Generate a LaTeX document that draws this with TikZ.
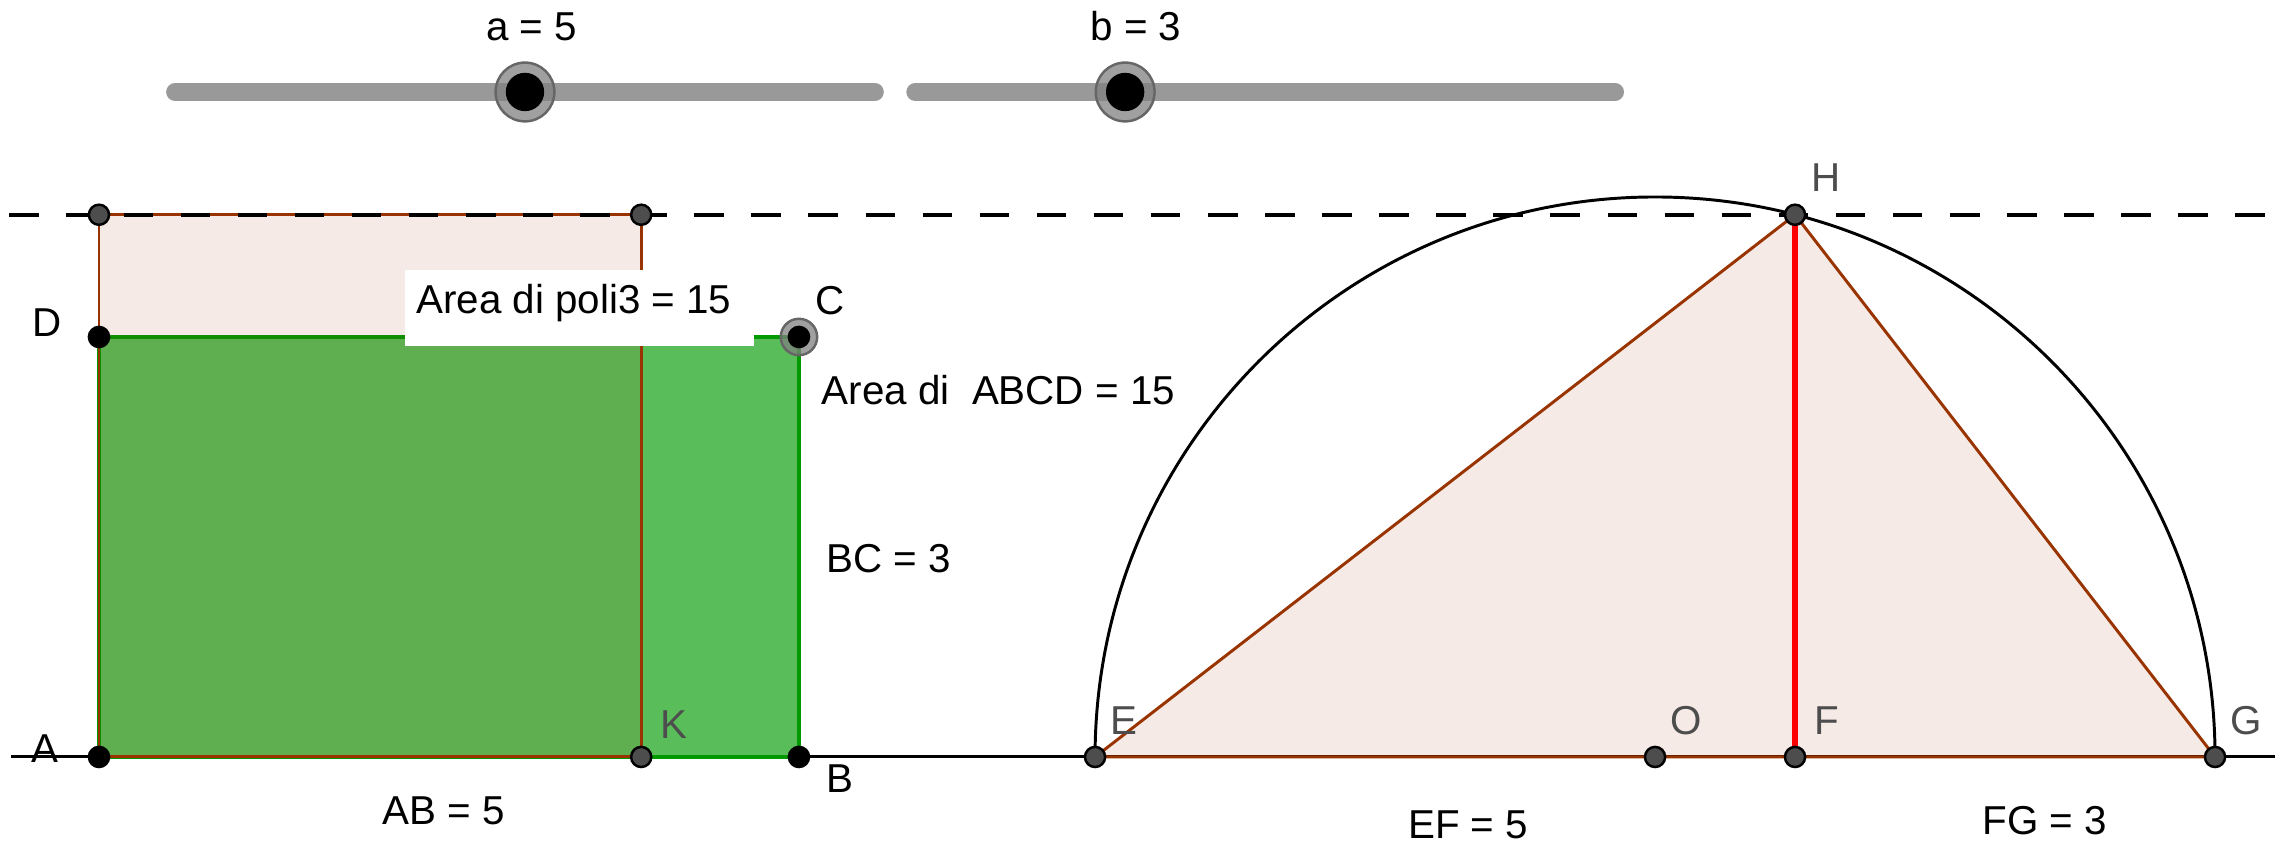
\documentclass[tikz,border=0pt]{standalone}
\usepackage{fontspec}
\setmainfont{Liberation Sans}
\usetikzlibrary{calc}

\definecolor{ggbbrown}{RGB}{153,51,0}
\definecolor{ggbgreen}{RGB}{0,153,0}
\definecolor{ggbgray}{RGB}{77,77,77}
\definecolor{slidergray}{RGB}{153,153,153}

\begin{document}
\begin{tikzpicture}[
    lbl/.style={font=\fontsize{8.2}{10}\selectfont, inner sep=0pt, anchor=base},
    ptlbl/.style={lbl, anchor=base west, text=ggbgray},
    freept/.style={fill=black, draw=black, line width=0.5pt},
    deppt/.style={fill=ggbgray, draw=black, line width=0.5pt},
    halo/.style={fill=black!50, fill opacity=0.75, draw=black!60, line width=0.5pt},
    sliderbar/.style={slidergray, line width=3.6pt, line cap=round},
]

    % --- Parámetros ---
    \def\sa{5}          % valor del deslizador a
    \def\sb{3}          % valor del deslizador b
    \def\side{3.873}    % sqrt(a*b)
    \def\ex{7.115}      % abscisa de E
    \def\prad{0.072}    % radio de los puntos
    \def\sy{4.75}       % altura de los deslizadores

    \useasboundingbox (-0.707,-0.636) rectangle (15.629,5.407);

    % =========================================================================
    % Puntos
    % =========================================================================
    \coordinate (A) at (0,0);
    \coordinate (B) at (\sa,0);
    \coordinate (C) at (\sa,\sb);
    \coordinate (D) at (0,\sb);
    \coordinate (K) at (\side,0);
    \coordinate (P) at (0,\side);
    \coordinate (Q) at (\side,\side);
    \coordinate (E) at (\ex,0);
    \coordinate (F) at ({\ex+\sa},0);
    \coordinate (G) at ({\ex+\sa+\sb},0);
    \coordinate (O) at ({\ex+(\sa+\sb)/2},0);
    \coordinate (H) at ({\ex+\sa},\side);
    \coordinate (baseL) at (-0.63,0);
    \coordinate (baseR) at (15.54,0);
    \coordinate (dashL) at (-0.64,\side);
    \coordinate (dashR) at (15.55,\side);

    % =========================================================================
    % Deslizadores a y b
    % =========================================================================
    \coordinate (sliderA0) at (0.543,\sy);
    \coordinate (sliderA1) at (5.543,\sy);
    \coordinate (knobA) at ({0.543+\sa/2},\sy);
    \coordinate (sliderB0) at (5.83,\sy);
    \coordinate (sliderB1) at (10.83,\sy);
    \coordinate (knobB) at ({5.83+\sb/2},\sy);

    \draw[sliderbar] (sliderA0) -- (sliderA1);
    \draw[sliderbar] (sliderB0) -- (sliderB1);
    \foreach \k in {knobA,knobB} {
        \filldraw[halo] (\k) circle (0.21);
        \fill[black] (\k) circle (0.137);
    }
    \node[lbl] (labSliderA) at (3.09,5.121) {a = 5};
    \node[lbl] (labSliderB) at (7.407,5.121) {b = 3};

    % =========================================================================
    % Rectángulos ABCD y poli3
    % =========================================================================
    % 1. Recta base
    \draw[line width=0.6pt] (baseL) -- (baseR);

    % 2. Rectángulo ABCD (verde)
    \fill[ggbgreen, fill opacity=0.65] (A) rectangle (C);
    \draw[ggbgreen, line width=0.7pt] (A) -- (B) -- (C) -- (D) -- cycle;

    % 3. Cuadrado poli3
    \fill[ggbbrown, fill opacity=0.1] (A) rectangle (Q);
    \draw[ggbbrown, line width=0.6pt] (A) -- (K) -- (Q) -- (P) -- cycle;

    % 4. Etiqueta con fondo blanco
    \fill[white] (2.186,2.936) rectangle (4.679,3.479);
    \node[lbl, anchor=base west] (labPoli) at (2.26,3.171) {Area di poli3 = 15};

    % =========================================================================
    % Semicírculo y triángulo EHG
    % =========================================================================
    \fill[ggbbrown, fill opacity=0.1] (E) -- (H) -- (G) -- cycle;
    \draw[ggbbrown, line width=0.6pt] (E) -- (H) -- (G) -- cycle;
    \draw[red, line width=1.3pt] (H) -- (F);
    \draw[line width=0.6pt] (G) arc[start angle=0, end angle=180, radius={(\sa+\sb)/2}];

    % Recta discontinua y = sqrt(ab)
    \draw[line width=0.8pt, dash pattern=on 6pt off 5.6pt] (dashL) -- (dashR);

    % =========================================================================
    % Marcas de puntos y etiquetas
    % =========================================================================
    \foreach \p in {K,P,Q,E,O,F,G,H} {
        \filldraw[deppt] (\p) circle (\prad);
    }
    \filldraw[halo] (C) circle (0.13);
    \foreach \p in {A,B,C,D} {
        \filldraw[freept] (\p) circle (\prad);
    }

    \node[lbl] (labA) at ($(A)+(-0.389,-0.036)$) {A};
    \node[lbl, anchor=base west] (labB) at ($(B)+(0.19,-0.257)$) {B};
    \node[lbl, anchor=base west] (labC) at ($(C)+(0.114,0.157)$) {C};
    \node[lbl] (labD) at ($(D)+(-0.371,0)$) {D};
    \node[ptlbl] (labK) at ($(K)+(0.134,0.129)$) {K};
    \node[ptlbl] (labE) at ($(E)+(0.105,0.157)$) {E};
    \node[ptlbl] (labO) at ($(O)+(0.105,0.157)$) {O};
    \node[ptlbl] (labF) at ($(F)+(0.13,0.157)$) {F};
    \node[ptlbl] (labG) at ($(G)+(0.105,0.157)$) {G};
    \node[ptlbl] (labH) at ($(H)+(0.11,0.163)$) {H};

    % Medidas
    \node[lbl] (labAB) at (2.46,-0.479) {AB = 5};
    \node[lbl, anchor=base west] (labBC) at (5.19,1.32) {BC = 3};
    \node[lbl, anchor=base west] (labArea) at (5.156,2.52) {Area di\ \ ABCD = 15};
    \node[lbl] (labEF) at (9.78,-0.579) {EF = 5};
    \node[lbl] (labFG) at (13.9,-0.557) {FG = 3};

\end{tikzpicture}
\end{document}
